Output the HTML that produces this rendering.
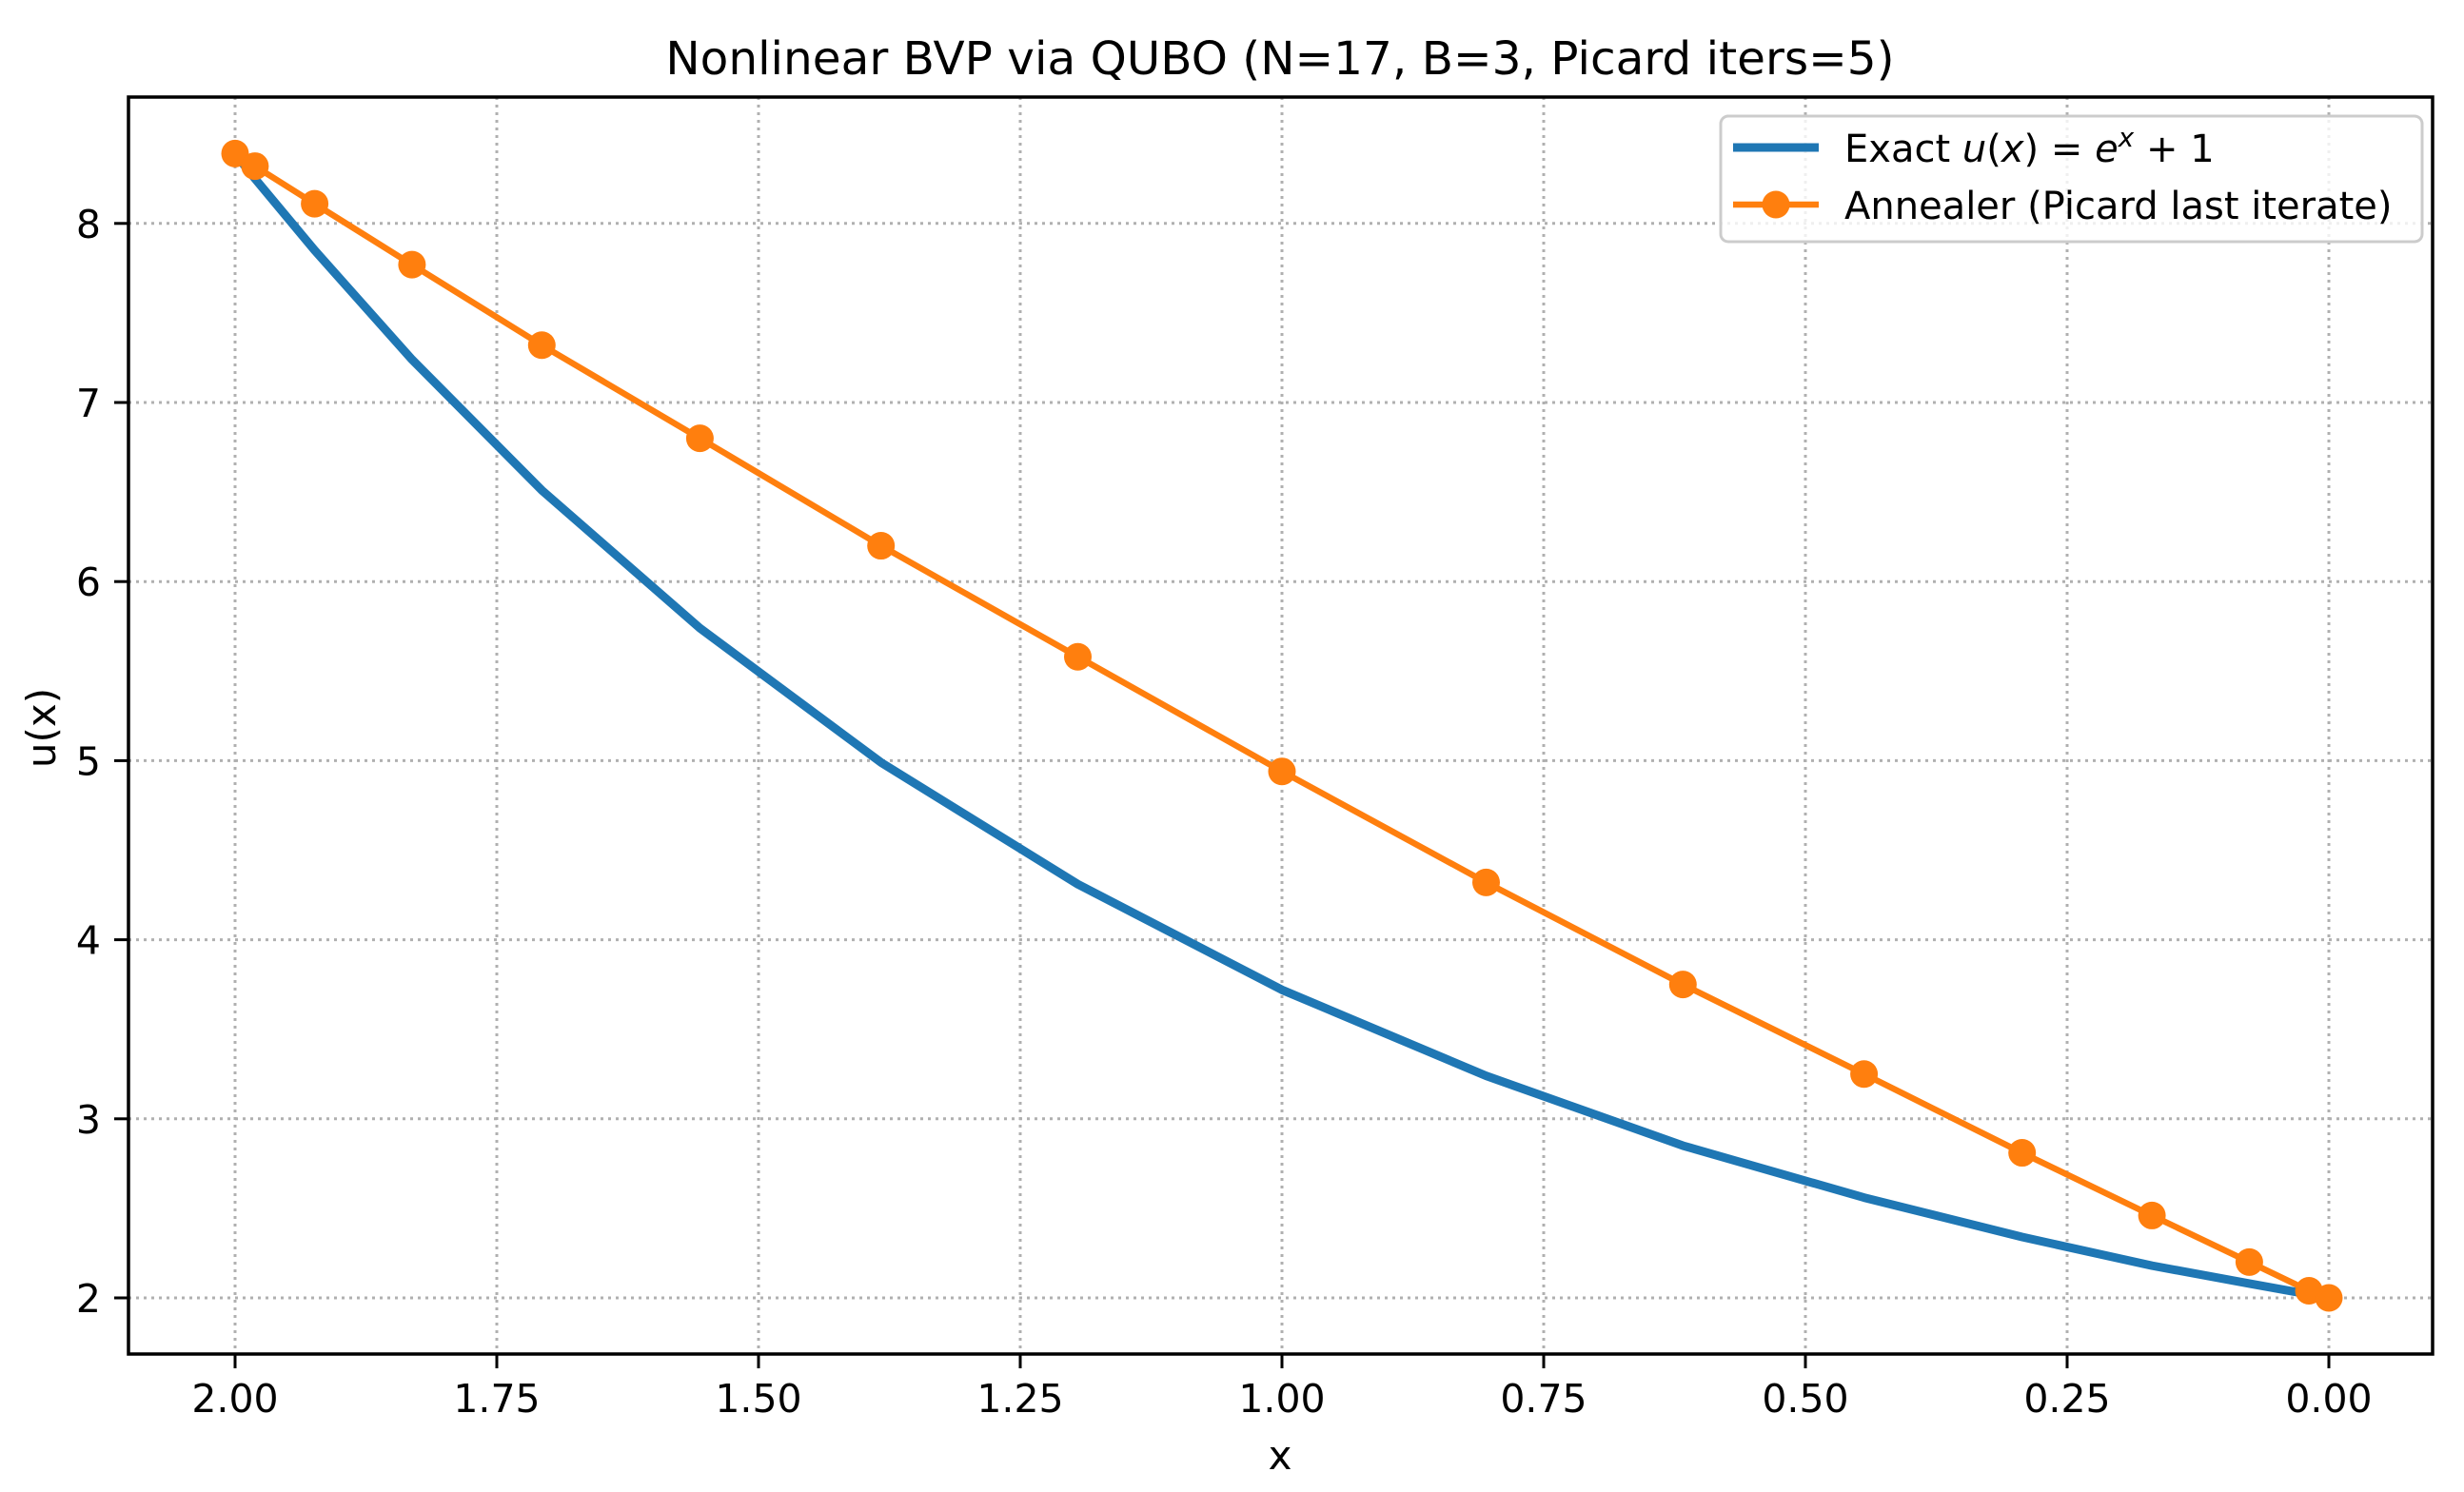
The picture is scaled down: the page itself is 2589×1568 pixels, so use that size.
<!DOCTYPE html>
<html><head><meta charset="utf-8"><style>
html,body{margin:0;padding:0;background:#fff;}
svg{display:block;font-family:"DejaVu Sans","Liberation Sans",sans-serif;}
</style></head><body>
<svg id="chart" width="2589" height="1568" viewBox="0 0 2589 1568" xmlns="http://www.w3.org/2000/svg">
<rect width="2589" height="1568" fill="#fff"/>
<g id="grid"></g>
<g id="series"></g>
<rect x="135" y="102" width="2421" height="1321" fill="none" stroke="#000" stroke-width="3.5"/>
<g id="ticks"></g>
<text x="1345" y="78" text-anchor="middle" font-size="48.5">Nonlinear BVP via QUBO (N=17, B=3, Picard iters=5)</text>
<text x="1345" y="1544" text-anchor="middle" font-size="42">x</text>
<text x="0" y="0" transform="translate(58,765) rotate(-90)" text-anchor="middle" font-size="42">u(x)</text>
<g>
<rect x="1808" y="122" width="737" height="132" rx="8" fill="#fff" fill-opacity="0.8" stroke="#cccccc" stroke-width="3"/>
<line x1="1821" y1="155" x2="1911" y2="155" stroke="#1f77b4" stroke-width="9"/>
<text x="1938" y="170" font-size="40">Exact <tspan font-style="italic">u</tspan>(<tspan font-style="italic">x</tspan>) = <tspan font-style="italic">e</tspan><tspan font-style="italic" font-size="28" dy="-16">x</tspan><tspan dy="16"> + 1</tspan></text>
<line x1="1821" y1="215" x2="1911" y2="215" stroke="#ff7f0e" stroke-width="6.5"/>
<circle cx="1866" cy="215" r="14.5" fill="#ff7f0e"/>
<text x="1938" y="230" font-size="40">Annealer (Picard last iterate)</text>
</g>
</svg>
<script>
const xNodes = [2.0, 1.981, 1.924, 1.831, 1.707, 1.556, 1.383, 1.195, 1.0, 0.805, 0.617, 0.444, 0.293, 0.169, 0.076, 0.019, 0.0];
const exactU = [8.389, 8.25, 7.85, 7.24, 6.51, 5.74, 4.99, 4.31, 3.72, 3.24, 2.85, 2.56, 2.34, 2.18, 2.08, 2.02, 2.0];
const annealU = [8.39, 8.32, 8.11, 7.77, 7.32, 6.80, 6.20, 5.58, 4.94, 4.32, 3.75, 3.25, 2.81, 2.46, 2.20, 2.04, 2.0];
const xTicks = [2.0, 1.75, 1.5, 1.25, 1.0, 0.75, 0.5, 0.25, 0.0];
const xTickLabels = ["2.00","1.75","1.50","1.25","1.00","0.75","0.50","0.25","0.00"];
const yTicks = [2, 3, 4, 5, 6, 7, 8];
const yTickLabels = ["2","3","4","5","6","7","8"];

const NS = "http://www.w3.org/2000/svg";
function X(v){ return 2447 - 1100 * v; }
function Y(v){ return 1364 - 188.2 * (v - 2); }
function mk(tag, attrs, parent){
  const e = document.createElementNS(NS, tag);
  for (const k in attrs) e.setAttribute(k, attrs[k]);
  parent.appendChild(e);
  return e;
}
const grid = document.getElementById('grid');
const ticks = document.getElementById('ticks');
const series = document.getElementById('series');

xTicks.forEach((v, i) => {
  const g = mk('line', {x1: X(v), x2: X(v), y1: 102, y2: 1423, stroke: '#b0b0b0', 'stroke-width': 3, 'stroke-dasharray': '3,5'}, grid);
  
  
  const t = mk('line', {x1: X(v), x2: X(v), y1: 1423, y2: 1438, stroke: '#000', 'stroke-width': 3}, ticks);
  
  
  const l = mk('text', {x: X(v), y: 1484, 'text-anchor': 'middle', 'font-size': 41}, ticks);
  l.textContent = xTickLabels[i];
  
  
});
yTicks.forEach((v, i) => {
  const g = mk('line', {x1: 135, x2: 2556, y1: Y(v), y2: Y(v), stroke: '#b0b0b0', 'stroke-width': 3, 'stroke-dasharray': '3,5'}, grid);
  
  
  const t = mk('line', {x1: 120, x2: 135, y1: Y(v), y2: Y(v), stroke: '#000', 'stroke-width': 3}, ticks);
  
  
  const l = mk('text', {x: 106, y: Y(v) + 15, 'text-anchor': 'end', 'font-size': 41}, ticks);
  l.textContent = yTickLabels[i];
  
  
});

const exactPts = xNodes.map((x, i) => X(x) + ',' + Y(exactU[i])).join(' ');
const pe = mk('polyline', {points: exactPts, fill: 'none', stroke: '#1f77b4', 'stroke-width': 9, 'stroke-linejoin': 'round'}, series);



const annPts = xNodes.map((x, i) => X(x) + ',' + Y(annealU[i])).join(' ');
const pa = mk('polyline', {points: annPts, fill: 'none', stroke: '#ff7f0e', 'stroke-width': 6.5, 'stroke-linejoin': 'round'}, series);


xNodes.forEach((x, i) => {
  const c = mk('circle', {cx: X(x), cy: Y(annealU[i]), r: 14.5, fill: '#ff7f0e'}, series);
  
  
});
</script>
</body></html>
